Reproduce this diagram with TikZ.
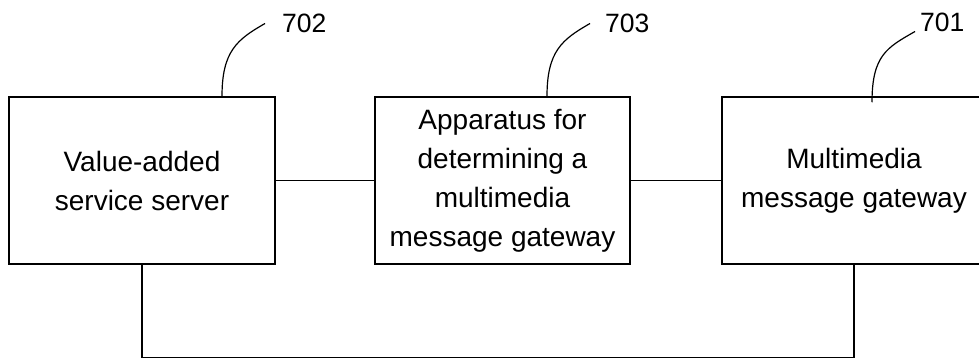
\documentclass[tikz,border=0pt]{standalone}
\usepackage{fontspec}
\setmainfont{Liberation Sans}
\usetikzlibrary{arrows, arrows.meta}
\usetikzlibrary{shapes}
\tikzset{unitbox/.style={draw, line width=1.5pt, minimum height=167pt, align=center, inner sep=0pt, font=\fontsize{28}{39}\selectfont},
refnum/.style={anchor=west, inner sep=0pt, font=\fontsize{26.5}{30}\selectfont},
leader/.style={line width=1.2pt}}

\begin{document}
\begin{tikzpicture}[>=latex, x=1pt, y=-1pt]
\useasboundingbox (0,0) rectangle (979,358);
      \node[unitbox, minimum width=266pt] (vas) at (142,180.5) {Value-added\\service server};
      \node[unitbox, minimum width=255pt] (app) at (502.5,180.5) {Apparatus for\\determining a\\multimedia\\message gateway};
      \node[unitbox, minimum width=264pt] (mmg) at (854,180.5) {Multimedia\\message gateway};
\node[refnum] (n702) at (282,23.5) {702};
\node[refnum] (n703) at (605,23.5) {703};
\node[refnum] (n701) at (920,22.5) {701};
      \draw[line width=1pt] (vas) -- (app);
      \draw[line width=1pt] (app) -- (mmg);
       \draw[line width=1.3pt] (vas.south) -- ++(0,93) -| (mmg.south);
\draw[leader] ([xshift=80pt]vas.north) .. controls +(0,-45) and +(-28,16) .. ([xshift=-17pt]n702.west);
\draw[leader] ([xshift=44.5pt]app.north) .. controls +(0,-45) and +(-28,16) .. ([xshift=-15pt]n703.west);
\draw[leader] ([xshift=18pt,yshift=-6pt]mmg.north) .. controls +(0,-47) and +(-28,16) .. ([xshift=-5pt,yshift=-9pt]n701.west);
    \end{tikzpicture}
\end{document}
